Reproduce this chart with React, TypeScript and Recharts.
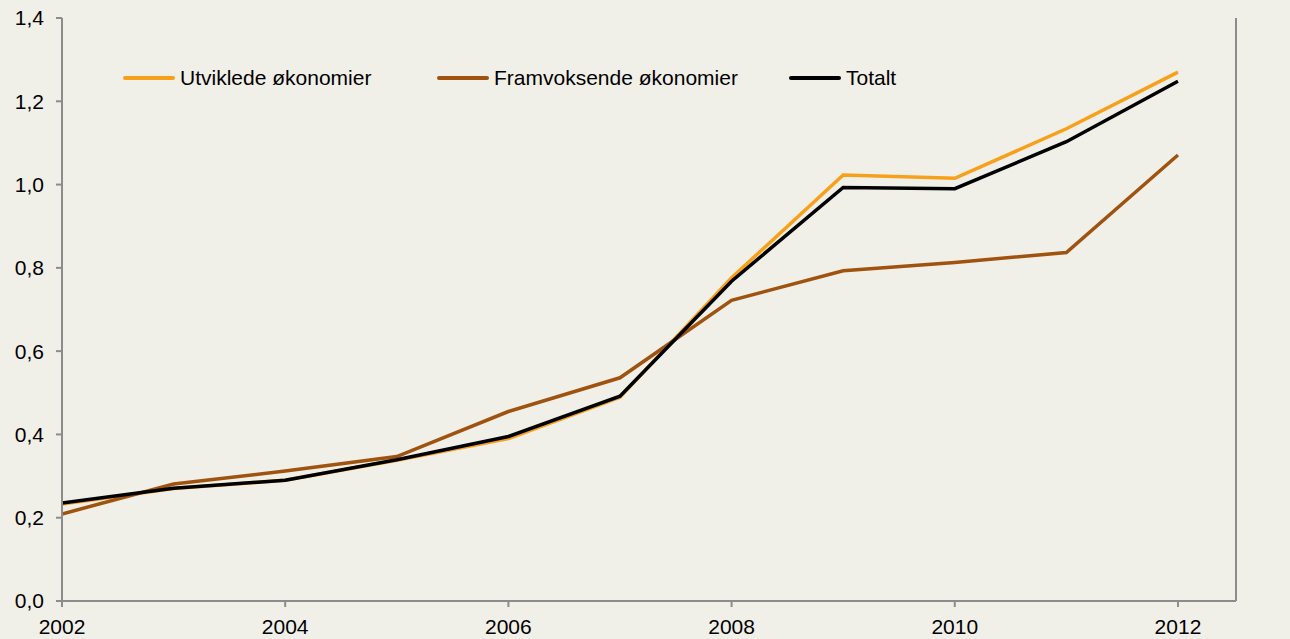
import { LineChart, Line, XAxis, YAxis } from "recharts";

const years = [2002, 2003, 2004, 2005, 2006, 2007, 2008, 2009, 2010, 2011, 2012];
const utviklede = [0.233, 0.27, 0.29, 0.338, 0.39, 0.489, 0.776, 1.023, 1.015, 1.134, 1.27];
const framvoksende = [0.209, 0.281, 0.312, 0.347, 0.455, 0.536, 0.722, 0.793, 0.813, 0.837, 1.071];
const totalt = [0.235, 0.271, 0.29, 0.339, 0.395, 0.492, 0.768, 0.993, 0.99, 1.103, 1.248];

const xTicks = [2002, 2004, 2006, 2008, 2010, 2012];
const yTicks = [0, 0.2, 0.4, 0.6, 0.8, 1.0, 1.2, 1.4];

const seriesNames = ["Utviklede økonomier", "Framvoksende økonomier", "Totalt"];
const colors = ["#F9A01B", "#A0520F", "#000000"];

const data = years.map((year, i) => ({
  year,
  utviklede: utviklede[i],
  framvoksende: framvoksende[i],
  totalt: totalt[i],
}));

const fmt = (v: number) => v.toFixed(1).replace(".", ",");

const font = "'Liberation Sans', Arial, sans-serif";
const axisColor = "#8C8C8C";
const tickStyle = { fill: "#000", fontSize: 21, fontFamily: font };

// legend item x-offsets, matching the Excel layout
const legendLeft = [123, 437, 789];

// Legend drawn by hand (outside the svg) so it doesn't push the plot area down
const ChartLegend = () => (
  <>
    {seriesNames.map((name, i) => (
      <div
        key={name}
        style={{
          position: "absolute",
          left: legendLeft[i],
          top: 66,
          display: "flex",
          alignItems: "center",
          gap: 5,
          fontFamily: font,
          fontSize: 21,
          lineHeight: "24px",
        }}
      >
        <div style={{ width: 52, height: 4, borderRadius: 2, backgroundColor: colors[i] }} />
        <span style={{ color: "#000", whiteSpace: "nowrap" }}>{name}</span>
      </div>
    ))}
  </>
);

export default function App() {
  return (
    <div style={{ position: "absolute", left: 0, top: 0, width: 1290, height: 639, background: "#F0EFE8" }}>
      <LineChart width={1290} height={639} data={data} margin={{ top: 18, right: 0, left: 0, bottom: 0 }}>
        <XAxis
          dataKey="year"
          type="number"
          domain={[2002, 2012.52]}
          ticks={xTicks}
          allowDataOverflow
          height={38}
          stroke={axisColor}
          strokeWidth={2}
          tickSize={6}
          tickMargin={12}
          tick={tickStyle}
        />
        <YAxis
          yAxisId="left"
          domain={[0, 1.4]}
          ticks={yTicks}
          width={62}
          stroke={axisColor}
          strokeWidth={2}
          tickSize={6}
          tickMargin={12}
          tick={tickStyle}
          tickFormatter={fmt}
        />
        <YAxis
          yAxisId="right"
          orientation="right"
          domain={[0, 1.4]}
          ticks={yTicks}
          width={54}
          stroke={axisColor}
          strokeWidth={2}
          tickSize={6}
          tickMargin={12}
          tick={{ ...tickStyle, textAnchor: "start" }}
          tickFormatter={fmt}
        />
        <Line yAxisId="left" dataKey="utviklede" name={seriesNames[0]} stroke={colors[0]} strokeWidth={3.5} dot={false} isAnimationActive={false} />
        <Line yAxisId="left" dataKey="framvoksende" name={seriesNames[1]} stroke={colors[1]} strokeWidth={3.5} dot={false} isAnimationActive={false} />
        <Line yAxisId="left" dataKey="totalt" name={seriesNames[2]} stroke={colors[2]} strokeWidth={3.5} dot={false} isAnimationActive={false} />
      </LineChart>
      <ChartLegend />
    </div>
  );
}
